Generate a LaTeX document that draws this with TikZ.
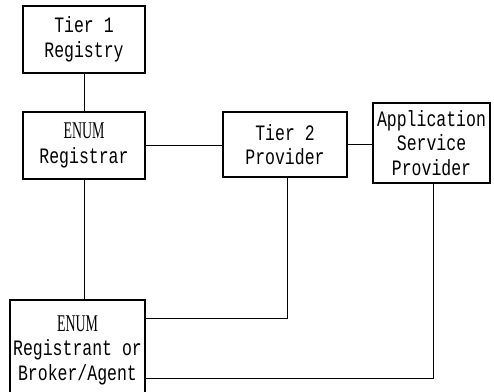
\documentclass[tikz,border=0pt]{standalone}
\usepackage{fontspec}
\newfontfamily\monofam[FakeStretch=0.75]{Liberation Mono}
\newfontfamily\enumfam[FakeStretch=0.58]{Liberation Serif}
\newcommand{\enumword}{{\enumfam\fontsize{24}{24}\selectfont ENUM}}
\begin{document}
\begin{tikzpicture}[x=1pt,y=-1pt,
  box/.style={draw, line width=1.6pt, inner sep=0pt, align=center,
    font=\fontsize{22}{24.5}\selectfont\monofam},
  link/.style={line width=1pt}]
\useasboundingbox (0,0) rectangle (494,391);
\begin{scope}
\clip (0,0) rectangle (494,391);
% boxes
\node[box, minimum width=122pt, minimum height=67pt] (t1) at (84,39.5)
  {Tier 1\\Registry};
\node[box, minimum width=122pt, minimum height=67pt] (reg) at (84,145.5)
  {\enumword\\Registrar};
\node[box, minimum width=124pt, minimum height=65pt] (t2) at (285,144.5)
  {Tier 2\\Provider};
\node[box, minimum width=117pt, minimum height=80pt] (asp) at (431.5,143)
  {Application\\Service\\Provider};
\node[box, minimum width=135pt, minimum height=100pt] (rb) at (77.5,350)
  {\enumword\\Registrant or\\Broker/Agent};
% connectors
\coordinate (k1) at (287,318);
\coordinate (k2) at (433,378);
\draw[link] (t1) -- (reg);
\draw[link] (reg.east) -- (t2.west |- reg.east);
\draw[link] (t2.east) -- (asp.west |- t2.east);
\draw[link] (reg.south) -- (reg.south |- rb.north);
\draw[link] (t2.south -| k1) |- (rb.east |- k1);
\draw[link] (asp.south -| k2) |- (rb.east |- k2);
\end{scope}
\end{tikzpicture}
\end{document}
